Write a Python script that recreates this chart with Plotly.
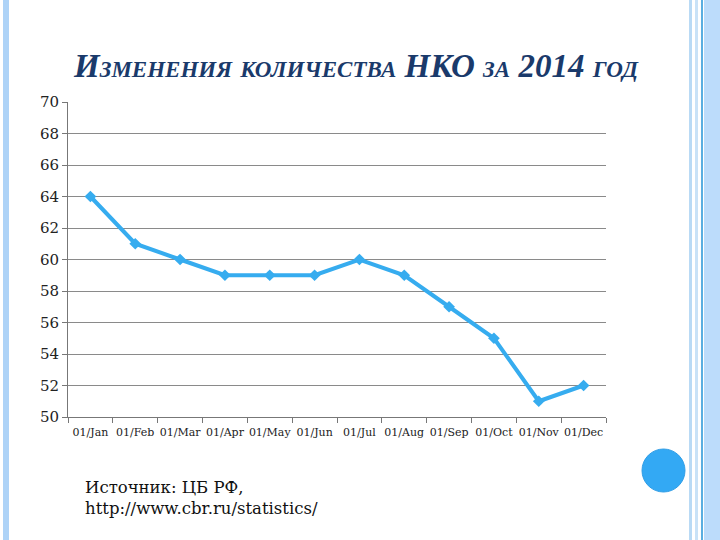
import plotly.graph_objects as go

months = ["01/Jan", "01/Feb", "01/Mar", "01/Apr", "01/May", "01/Jun",
          "01/Jul", "01/Aug", "01/Sep", "01/Oct", "01/Nov", "01/Dec"]
nko_count = [64, 61, 60, 59, 59, 59, 60, 59, 57, 55, 51, 52]
y_ticks = list(range(50, 72, 2))

W, H = 720, 540
L, R, T, B = 68, 606, 102, 417


def px(x):
    return (x - L) / (R - L)


def py(y):
    return (H - y - (H - B)) / (B - T)


fig = go.Figure()
fig.add_trace(go.Scatter(
    x=months, y=nko_count, mode="lines+markers",
    line=dict(color="#36acef", width=4),
    marker=dict(symbol="diamond", size=9, color="#36acef"),
    showlegend=False, hoverinfo="x+y",
))

serif = "DejaVu Serif"
shapes = []
# decorative stripes
stripes = [
    (3, 9, "#aed3f7"),
    (689, 692, "#b9daf5"),
    (695, 698, "#c9e2f7"),
    (701, 703, "#5aaee0"),
    (704, 720, "#bcdcfb"),
]
for x0, x1, c in stripes:
    shapes.append(dict(type="rect", xref="paper", yref="paper",
                       x0=px(x0), x1=px(x1), y0=py(540), y1=py(0),
                       fillcolor=c, line=dict(width=0), layer="below"))
shapes.append(dict(type="circle", xref="paper", yref="paper",
                   x0=px(642), x1=px(685), y0=py(492), y1=py(449),
                   fillcolor="#33a9f4", line=dict(color="#2f9de6", width=1)))

fig.update_layout(
    width=W, height=H,
    margin=dict(l=L, r=W - R, t=T, b=H - B, autoexpand=False),
    paper_bgcolor="white", plot_bgcolor="white",
    title=dict(
        text="Изменения количества НКО за 2014 год",
        x=px(356), xref="paper", xanchor="center",
        y=1 - 65 / H, yanchor="middle", automargin=False,
        font=dict(family="Liberation Serif", size=33, color="#1a3a6b",
                  style="italic", weight="bold", variant="small-caps"),
    ),
    xaxis=dict(
        type="category", tickson="boundaries", ticks="outside", ticklen=5,
        tickcolor="#777", showline=True, linecolor="#777", linewidth=1,
        showgrid=False, tickangle=0, automargin=False, ticklabelstandoff=5,
        tickfont=dict(family=serif, size=11, color="#222"),
        range=[-0.5, 11.5], fixedrange=True,
    ),
    yaxis=dict(
        range=[50, 70], tickvals=y_ticks, ticks="outside", ticklen=5,
        tickcolor="#777", showline=True, linecolor="#777", linewidth=1,
        showgrid=True, gridcolor="#8a8a8a", gridwidth=1, automargin=False,
        tickfont=dict(family=serif, size=15, color="#222"), zeroline=False,
    ),
    shapes=shapes,
    annotations=[
        dict(text="Источник: ЦБ РФ,<br>http://www.cbr.ru/statistics/",
             xref="paper", yref="paper", x=px(83), y=py(476),
             xanchor="left", yanchor="top", align="left", showarrow=False,
             font=dict(family=serif, size=16.5, color="#111")),
    ],
)

fig.write_html("out.html", config={"displayModeBar": False},
               post_script="document.body.style.margin='0';document.body.style.overflow='hidden';")
